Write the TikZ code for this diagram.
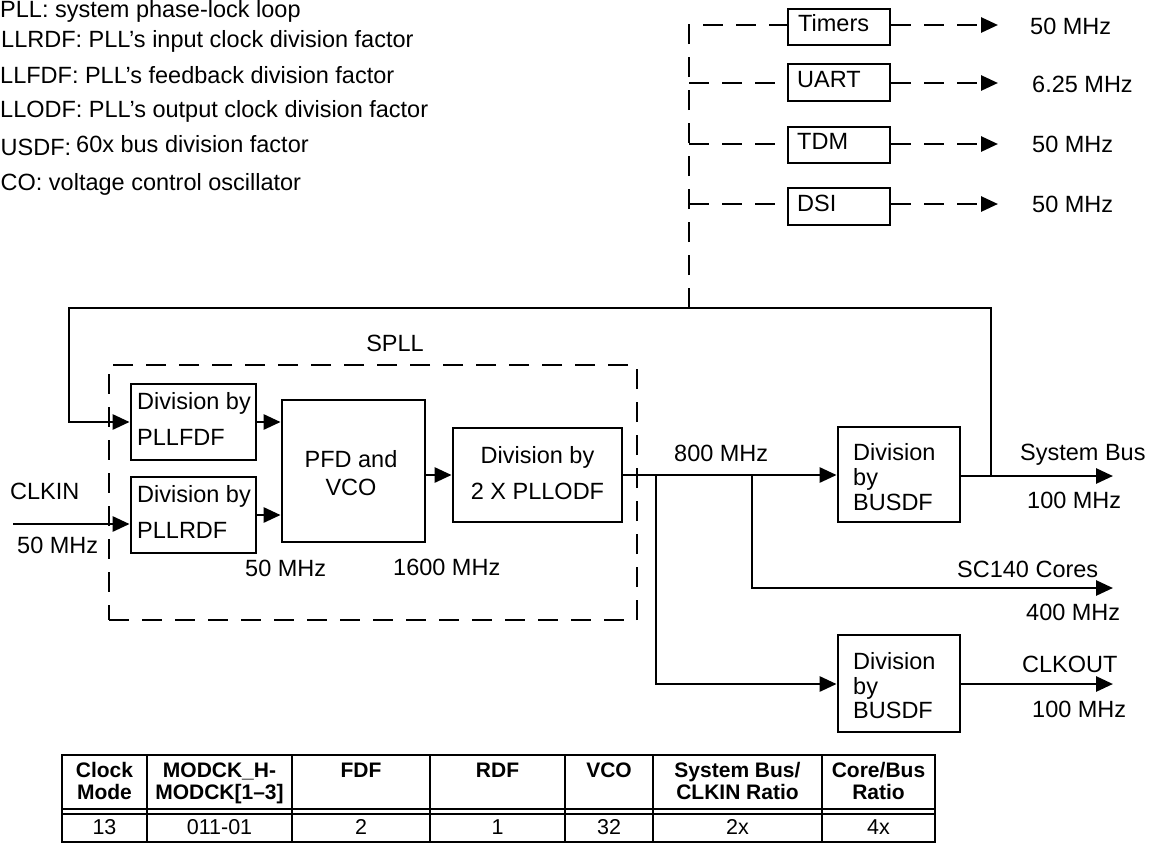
\documentclass[tikz,border=0pt]{standalone}
\usepackage{fontspec}
\setmainfont{Liberation Sans}
\usetikzlibrary{arrows.meta}
\newcommand\myfs[1]{\fontsize{#1}{#1}\selectfont}
\begin{document}
\begin{tikzpicture}[x=1pt,y=-1pt,
  ln/.style={line width=2.8pt},
  box/.style={draw,line width=2.8pt,inner sep=0,rectangle},
  dsh/.style={line width=2.8pt,dash pattern=on 20pt off 13pt},
  arr/.style={ln,-{Triangle[length=17pt,width=15pt]}},
  darr/.style={dsh,-{Triangle[length=17pt,width=15pt]}},
  txt/.style={inner sep=0,anchor=base west,font=\myfs{23.5}},
  ctxt/.style={inner sep=0,anchor=base,font=\myfs{23.5}},
  th/.style={inner sep=0,anchor=base,font=\myfs{21}\bfseries},
  td/.style={inner sep=0,anchor=base,font=\myfs{21.5}},
  tl/.style={line width=2.4pt}]
\useasboundingbox (0,0) rectangle (1154,844);

% legend
\node[txt] (l1) at (0,17) {PLL: system phase-lock loop};
\node[txt] (l2) at (1,47) {LLRDF: PLL’s input clock division factor};
\node[txt] (l3) at (0,83) {LLFDF: PLL’s feedback division factor};
\node[txt] (l4) at (0,117) {LLODF: PLL’s output clock division factor};
\node[txt] (l5) at (0.5,155) {USDF:};
\node[txt] (l5b) at (76,152) {60x bus division factor};
\node[txt] (l6) at (0.5,190) {CO: voltage control oscillator};

% peripheral boxes
\node[box,minimum width=102,minimum height=36] (tim) at (839,27) {};
\node[box,minimum width=102,minimum height=37] (uart) at (839,82.5) {};
\node[box,minimum width=102,minimum height=36] (tdm) at (839,145) {};
\node[box,minimum width=102,minimum height=37] (dsi) at (839,206.5) {};
\node[txt] (timt) at (798,31) {Timers};
\node[txt] (uartt) at (797,87) {UART};
\node[txt] (tdmt) at (797,149) {TDM};
\node[txt] (dsit) at (797,211) {DSI};
\node[txt] (f1) at (1030,34) {50 MHz};
\node[txt] (f2) at (1032,92) {6.25 MHz};
\node[txt] (f3) at (1032,152) {50 MHz};
\node[txt] (f4) at (1032,212) {50 MHz};

\coordinate (v1) at (689,25);
\coordinate (v2) at (689,83);
\coordinate (v3) at (689,144);
\coordinate (v4) at (689,204);
\coordinate (o1) at (998,25);
\coordinate (o2) at (998,83);
\coordinate (o3) at (998,144);
\coordinate (o4) at (998,204);
\coordinate (fbj) at (689,308);

\draw[dsh] (fbj) -- (v1) -- (tim.west|-v1);
\draw[dsh] (v2) -- (uart.west|-v2);
\draw[dsh] (v3) -- (tdm.west|-v3);
\draw[dsh] (v4) -- (dsi.west|-v4);
\draw[darr] (tim.east|-o1) -- (o1);
\draw[darr] (uart.east|-o2) -- (o2);
\draw[darr] (tdm.east|-o3) -- (o3);
\draw[darr] (dsi.east|-o4) -- (o4);

% SPLL
\node[draw,dsh,inner sep=0,minimum width=528,minimum height=255] (spll) at (373,492.5) {};
\node[ctxt] (spllt) at (395,351) {SPLL};

\node[box,minimum width=125,minimum height=76] (fdf) at (193.5,422) {};
\node[box,minimum width=125,minimum height=76] (rdf) at (193.5,515) {};
\node[box,minimum width=143,minimum height=142] (pfd) at (353.5,471) {};
\node[box,minimum width=169,minimum height=94] (div2) at (537.5,475) {};
\node[box,minimum width=122,minimum height=95] (bus1) at (899,474.5) {};
\node[box,minimum width=122,minimum height=97] (bus2) at (899,683.5) {};

\node[txt] (fdf1) at (137,409) {Division by};
\node[txt] (fdf2) at (137,445) {PLLFDF};
\node[txt] (rdf1) at (137,502) {Division by};
\node[txt] (rdf2) at (137,538) {PLLRDF};
\node[ctxt] (pfd1) at (351,467) {PFD and};
\node[ctxt] (pfd2) at (351,495) {VCO};
\node[ctxt] (dv1) at (537.5,463) {Division by};
\node[ctxt] (dv2) at (537.5,499) {2 X PLLODF};
\node[txt] (ba1) at (853,460) {Division};
\node[txt] (ba2) at (853,485) {by};
\node[txt] (ba3) at (853,510) {BUSDF};
\node[txt] (bb1) at (853,669) {Division};
\node[txt] (bb2) at (853,694) {by};
\node[txt] (bb3) at (853,718) {BUSDF};

\node[txt] (clkin) at (10,499) {CLKIN};
\node[txt] (fin) at (17,553) {50 MHz};
\node[txt] (f50) at (245,576) {50 MHz};
\node[txt] (f1600) at (393,575) {1600 MHz};
\node[txt] (f800) at (674,461) {800 MHz};
\node[txt] (sbt) at (1020,460) {System Bus};
\node[txt] (sbf) at (1027,508) {100 MHz};
\node[txt] (sct) at (957,577) {SC140 Cores};
\node[txt] (scf) at (1026,620) {400 MHz};
\node[txt] (ckt) at (1022,672) {CLKOUT};
\node[txt] (ckf) at (1032,717) {100 MHz};

% connectors
\coordinate (cin) at (13,524);
\coordinate (sbj) at (991,476);
\coordinate (fbR) at (991,308);
\coordinate (fbL) at (69,308);
\coordinate (fbD) at (69,422);
\coordinate (sbo) at (1113,476);
\coordinate (b1) at (752,475);
\coordinate (b1d) at (752,588);
\coordinate (coreo) at (1113,588);
\coordinate (b2) at (656,475);
\coordinate (b2d) at (656,684);
\coordinate (cko) at (1113,684);

\draw[arr] (cin) -- (rdf.west|-cin);
\draw[arr] (sbj) -- (fbR) -- (fbL) -- (fbD) -- (fdf.west|-fbD);
\draw[arr] (fdf.east) -- (pfd.west|-fdf.east);
\draw[arr] (rdf.east) -- (pfd.west|-rdf.east);
\draw[arr] (pfd.east|-div2.west) -- (div2.west);
\draw[arr] (div2.east) -- (bus1.west|-div2.east);
\draw[arr] (bus1.east|-sbo) -- (sbo);
\draw[arr] (b1) -- (b1d) -- (coreo);
\draw[arr] (b2) -- (b2d) -- (bus2.west|-b2d);
\draw[arr] (bus2.east|-cko) -- (cko);

% table
\draw[tl] (62,755) rectangle (935,842);
\draw[tl] (62,809) -- (935,809);
\draw[tl] (62,814) -- (935,814);
\foreach \cx in {147,292,430,565,653,822} \draw[tl] (\cx,755) -- (\cx,842);

\node[th] (h1a) at (104.5,777) {Clock};
\node[th] (h1b) at (104.5,799) {Mode};
\node[th] (h2a) at (219.5,777) {MODCK\_H-};
\node[th] (h2b) at (219.5,799) {MODCK[1–3]};
\node[th] (h3) at (361,777) {FDF};
\node[th] (h4) at (497.5,777) {RDF};
\node[th] (h5) at (609,777) {VCO};
\node[th] (h6a) at (737.5,777) {System Bus/};
\node[th] (h6b) at (737.5,799) {CLKIN Ratio};
\node[th] (h7a) at (878.5,777) {Core/Bus};
\node[th] (h7b) at (878.5,799) {Ratio};
\node[td] (d1) at (104.5,834) {13};
\node[td] (d2) at (219.5,834) {011-01};
\node[td] (d3) at (361,834) {2};
\node[td] (d4) at (497.5,834) {1};
\node[td] (d5) at (609,834) {32};
\node[td] (d6) at (737.5,834) {2x};
\node[td] (d7) at (878.5,834) {4x};
\end{tikzpicture}
\end{document}
